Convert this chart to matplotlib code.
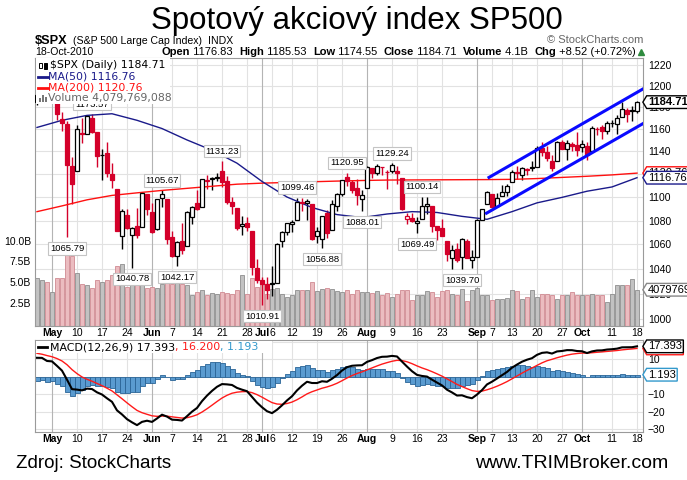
import numpy as np
import pandas as pd
import matplotlib
matplotlib.use("Agg")
import matplotlib.pyplot as plt
from matplotlib.path import Path
from matplotlib.patches import Rectangle
from matplotlib.lines import Line2D
from matplotlib.ticker import FixedLocator, NullLocator, FuncFormatter
from matplotlib.transforms import blended_transform_factory

plt.rcParams['font.family'] = ['Liberation Sans', 'DejaVu Sans']

# ---------------- data ----------------
holidays = ['2010-05-31', '2010-07-05', '2010-09-06']
dates = pd.bdate_range('2010-04-28', '2010-10-18')
dates = dates[~dates.isin(pd.to_datetime(holidays))]

opens = [1184.59, 1193.30, 1206.77, 1188.58, 1197.50, 1169.24, 1164.38, 1127.04, 1122.27, 1156.39,
         1155.43, 1170.04, 1157.19, 1136.52, 1138.78, 1119.57, 1107.34, 1067.26, 1084.78, 1067.42,
         1075.51, 1074.27, 1102.59, 1087.30, 1073.01, 1098.82, 1098.43, 1065.84, 1050.81, 1062.75,
         1058.77, 1082.65, 1095.00, 1091.21, 1114.02, 1115.98, 1116.16, 1122.79, 1113.90, 1095.57,
         1090.93, 1075.10, 1077.50, 1071.10, 1040.56, 1031.10, 1027.65, 1028.09, 1028.54, 1062.92,
         1070.50, 1077.23, 1080.65, 1095.61, 1094.46, 1093.85, 1066.85, 1064.53, 1086.67, 1072.14,
         1092.17, 1102.89, 1117.36, 1112.84, 1108.07, 1098.44, 1107.53, 1125.34, 1121.06, 1125.78,
         1122.07, 1122.80, 1122.92, 1116.89, 1081.48, 1082.22, 1077.49, 1081.16, 1092.08, 1092.44,
         1075.63, 1073.36, 1063.20, 1048.98, 1056.28, 1049.27, 1062.90, 1046.88, 1049.72, 1080.66,
         1093.61, 1102.60, 1092.36, 1101.15, 1104.57, 1113.38, 1121.16, 1119.43, 1123.89, 1126.39,
         1126.57, 1142.82, 1139.49, 1131.10, 1131.69, 1148.64, 1142.31, 1146.75, 1145.97, 1143.49,
         1144.96, 1140.68, 1159.81, 1161.57, 1158.36, 1165.32, 1164.28, 1171.32, 1177.82, 1177.47,
         1176.83]
highs = [1195.05, 1209.36, 1207.99, 1205.13, 1197.50, 1175.95, 1167.58, 1135.13, 1163.85, 1170.48,
         1172.87, 1173.57, 1157.19, 1141.88, 1148.66, 1129.63, 1107.34, 1090.16, 1089.95, 1074.75,
         1090.75, 1103.52, 1102.59, 1094.77, 1098.56, 1105.67, 1098.43, 1071.36, 1063.15, 1077.74,
         1087.85, 1092.25, 1105.91, 1115.59, 1118.74, 1117.72, 1121.01, 1131.23, 1118.50, 1099.64,
         1090.93, 1083.56, 1082.60, 1071.10, 1048.08, 1033.58, 1032.95, 1042.50, 1060.89, 1071.25,
         1078.16, 1080.78, 1099.46, 1099.08, 1098.66, 1093.85, 1074.70, 1083.94, 1088.96, 1097.50,
         1103.73, 1115.01, 1120.95, 1114.66, 1115.90, 1106.44, 1127.30, 1125.44, 1128.75, 1126.56,
         1123.06, 1129.24, 1127.16, 1116.89, 1086.72, 1086.25, 1082.62, 1100.14, 1099.77, 1092.44,
         1075.63, 1081.58, 1063.20, 1059.38, 1061.45, 1065.21, 1064.40, 1055.14, 1081.30, 1090.10,
         1105.10, 1102.60, 1103.26, 1110.27, 1110.88, 1123.87, 1127.36, 1126.46, 1125.44, 1131.47,
         1144.86, 1148.59, 1144.38, 1136.77, 1148.90, 1149.92, 1150.00, 1148.63, 1157.16, 1150.30,
         1148.16, 1162.76, 1162.33, 1163.87, 1167.73, 1168.68, 1172.58, 1184.38, 1178.89, 1181.20,
         1185.53]
lows = [1181.81, 1193.30, 1186.32, 1188.58, 1168.12, 1158.15, 1065.79, 1094.15, 1122.27, 1147.71,
        1155.43, 1156.14, 1126.14, 1114.96, 1117.20, 1107.84, 1071.58, 1055.90, 1072.70, 1040.78,
        1065.59, 1074.27, 1084.78, 1069.89, 1072.03, 1091.81, 1060.50, 1049.86, 1042.17, 1052.25,
        1058.77, 1077.12, 1089.03, 1091.21, 1107.13, 1105.87, 1113.93, 1108.24, 1094.18, 1085.31,
        1071.60, 1067.89, 1071.45, 1035.18, 1028.33, 1010.91, 1015.93, 1018.35, 1028.54, 1058.24,
        1068.10, 1069.99, 1080.65, 1087.68, 1080.53, 1063.32, 1061.11, 1056.88, 1065.25, 1072.14,
        1087.88, 1101.30, 1109.78, 1103.11, 1092.82, 1088.01, 1107.53, 1116.76, 1119.46, 1118.81,
        1107.17, 1120.91, 1111.58, 1088.55, 1076.69, 1079.00, 1069.49, 1081.16, 1085.76, 1070.66,
        1063.91, 1067.08, 1046.68, 1039.83, 1045.40, 1039.70, 1048.79, 1040.88, 1049.72, 1080.39,
        1093.61, 1091.15, 1092.36, 1101.15, 1101.15, 1113.38, 1115.58, 1114.63, 1118.88, 1122.43,
        1126.57, 1136.22, 1131.58, 1122.79, 1131.69, 1142.00, 1132.09, 1140.26, 1136.08, 1139.42,
        1131.87, 1140.68, 1154.85, 1151.41, 1155.58, 1162.02, 1155.71, 1171.32, 1166.71, 1167.12,
        1174.55]
closes = [1191.36, 1206.78, 1186.69, 1202.26, 1173.60, 1165.87, 1128.15, 1110.88, 1159.73, 1155.79,
          1171.67, 1157.44, 1135.68, 1136.94, 1120.80, 1115.05, 1071.59, 1087.69, 1073.65, 1074.03,
          1067.95, 1103.06, 1089.41, 1070.71, 1098.38, 1102.83, 1064.88, 1050.47, 1062.00, 1055.69,
          1086.84, 1091.60, 1089.63, 1115.23, 1114.61, 1116.04, 1117.51, 1113.20, 1095.31, 1092.04,
          1073.69, 1076.76, 1074.57, 1041.24, 1030.71, 1027.37, 1022.58, 1028.06, 1060.27, 1070.25,
          1077.96, 1078.75, 1095.34, 1095.17, 1096.48, 1064.88, 1071.25, 1083.48, 1069.59, 1093.67,
          1102.66, 1115.01, 1113.84, 1106.13, 1101.53, 1101.60, 1125.86, 1120.46, 1127.24, 1125.81,
          1121.64, 1127.79, 1121.06, 1089.47, 1083.61, 1079.25, 1079.38, 1092.54, 1094.16, 1075.63,
          1071.69, 1067.36, 1051.87, 1055.33, 1047.22, 1064.59, 1048.92, 1049.33, 1080.29, 1090.10,
          1104.51, 1091.84, 1098.87, 1104.18, 1109.55, 1121.90, 1121.10, 1125.07, 1124.66, 1125.59,
          1142.71, 1139.78, 1134.28, 1124.83, 1148.67, 1142.16, 1147.70, 1144.73, 1141.20, 1146.24,
          1137.03, 1160.75, 1159.97, 1158.06, 1165.15, 1165.32, 1169.77, 1178.10, 1173.81, 1176.19,
          1184.71]
volumes_b = [5.5, 5.25, 5.0, 3.8, 5.5, 5.5, 8.4, 8.1, 6.1, 4.8,
             4.6, 4.3, 5.3, 5.0, 5.2, 5.9, 7.0, 7.2, 4.4, 6.0,
             6.1, 4.6, 4.3, 4.4, 4.3, 4.8, 4.9, 4.8, 5.3, 4.8,
             4.6, 3.5, 3.8, 4.0, 3.5, 3.7, 3.6, 3.8, 3.7, 3.6,
             4.0, 5.9, 3.6, 5.5, 4.4, 4.9, 3.6, 4.2, 4.3, 3.6,
             3.2, 3.4, 4.1, 4.0, 4.1, 5.0, 3.9, 4.2, 4.3, 4.2,
             3.9, 3.8, 4.1, 3.6, 4.1, 3.8, 3.8, 3.7, 3.9, 3.4,
             3.7, 3.2, 3.6, 4.0, 4.0, 2.8, 3.4, 3.5, 3.9, 3.8,
             3.2, 3.9, 4.0, 3.6, 3.5, 4.2, 2.7, 4.0, 4.3, 3.5,
             3.4, 2.9, 3.0, 3.0, 3.1, 4.0, 3.9, 3.0, 3.2, 4.1,
             3.2, 3.6, 3.6, 3.5, 3.0, 3.4, 3.4, 3.75, 3.5, 3.5,
             3.5, 3.6, 3.4, 3.4, 2.6, 3.6, 4.65, 4.65, 4.65, 5.4,
             4.08]
prev_close_start = 1183.71
last_volume = 4079769088

ma_sample_dates = ['2010-04-28', '2010-05-05', '2010-05-12', '2010-05-19', '2010-05-26', '2010-06-03',
                   '2010-06-10', '2010-06-17', '2010-06-24', '2010-07-01', '2010-07-09', '2010-07-16',
                   '2010-07-23', '2010-07-30', '2010-08-06', '2010-08-13', '2010-08-20', '2010-08-27',
                   '2010-09-03', '2010-09-13', '2010-09-20', '2010-09-27', '2010-10-04', '2010-10-11',
                   '2010-10-18']
ma50 = [1161.5, 1168.0, 1172.5, 1174.0, 1168.0, 1160.5, 1150.2, 1141.0, 1129.5, 1113.5, 1100.0, 1091.0,
        1085.0, 1082.5, 1085.5, 1087.5, 1086.8, 1083.5, 1081.0, 1087.5, 1095.0, 1099.7, 1105.0, 1108.7,
        1116.76]
ma200 = [1087.5, 1092.4, 1097.6, 1101.4, 1103.6, 1105.7, 1107.5, 1109.3, 1111.1, 1112.0, 1112.6, 1113.2,
         1113.8, 1114.3, 1114.7, 1114.8, 1114.9, 1115.0, 1115.1, 1115.3, 1116.0, 1117.0, 1118.0, 1119.2,
         1120.76]

# MACD(12,26,9) seeds (EMA state just before the first bar)
ema12_seed, ema26_seed, signal_seed = 1198.3, 1186.0, 14.05
macd_last, signal_last, hist_last = 17.393, 16.200, 1.193

callout_dates = ['2010-05-13', '2010-05-06', '2010-05-25', '2010-06-03', '2010-06-08', '2010-06-21',
                 '2010-07-01', '2010-07-13', '2010-07-20', '2010-07-27', '2010-07-30', '2010-08-09',
                 '2010-08-16', '2010-08-17', '2010-08-27']
callout_values = [1173.57, 1065.79, 1040.78, 1105.67, 1042.17, 1131.23, 1010.91, 1099.46, 1056.88,
                  1120.95, 1088.01, 1129.24, 1069.49, 1100.14, 1039.70]
callout_side = ['H', 'L', 'L', 'H', 'L', 'H', 'L', 'H', 'L', 'H', 'L', 'H', 'L', 'H', 'L']

# trend channel (trading-day position, price)
channel_upper_x = [90.4, 121.2]
channel_upper_y = [1117.0, 1197.0]
channel_lower_x = [89.9, 121.2]
channel_lower_y = [1086.2, 1165.0]

tick_dates = ['2010-05-03', '2010-05-10', '2010-05-17', '2010-05-24', '2010-06-01', '2010-06-07',
              '2010-06-14', '2010-06-21', '2010-06-28', '2010-07-01', '2010-07-06', '2010-07-12',
              '2010-07-19', '2010-07-26', '2010-08-02', '2010-08-09', '2010-08-16', '2010-08-23',
              '2010-09-01', '2010-09-07', '2010-09-13', '2010-09-20', '2010-09-27', '2010-10-01',
              '2010-10-11', '2010-10-18']
tick_labels = ['May', '10', '17', '24', 'Jun', '7', '14', '21', '28', 'Jul', '6', '12', '19', '26',
               'Aug', '9', '16', '23', 'Sep', '7', '13', '20', '27', 'Oct', '11', '18']
month_labels = {'May', 'Jun', 'Jul', 'Aug', 'Sep', 'Oct'}

price_ticks = [1000, 1020, 1040, 1060, 1080, 1100, 1120, 1140, 1160, 1180, 1200, 1220]
vol_ticks = [2.5, 5.0, 7.5, 10.0]
macd_ticks = [-30, -20, -10, 10]
macd_grid = [-30, -20, -10, 0, 10, 20]

# ---------------- helpers ----------------
W, H = 687, 480
pos = {d: i for i, d in enumerate(dates)}
def di(s):
    return pos[pd.Timestamp(s)]

opens = np.array(opens); highs = np.array(highs); lows = np.array(lows); closes = np.array(closes)
vols = np.array(volumes_b)
n = len(closes)
xi = np.arange(n)
prev = np.concatenate([[prev_close_start], closes[:-1]])

RED = '#d4002a'
BLACK = '#000000'
NAVY = '#1a1a8a'
GRID = '#e2e2e2'
MGRID = '#b4b4b4'
SPINE = '#9a9a9a'

def tag_box(x0, y0, width, height, mutation_size):
    pad = mutation_size * 0.12
    x0 -= pad; y0 -= pad
    w = width + 2 * pad; h = height + 2 * pad
    tip = h * 0.3
    verts = [(x0, y0), (x0 + w, y0), (x0 + w, y0 + h), (x0, y0 + h), (x0 - tip, y0 + h / 2), (x0, y0)]
    return Path(verts, closed=True)

fig = plt.figure(figsize=(W / 100, H / 100), dpi=100)

def frect(x0, y0, x1, y1):
    return [x0 / W, 1 - y1 / H, (x1 - x0) / W, (y1 - y0) / H]

XL = (-0.4, 121.2)

# ---------------- volume (bottom layer) ----------------
axv = fig.add_axes(frect(35, 58, 643, 326))
axv.set_xlim(*XL)
axv.set_ylim(-0.3, 32.07)
ax = fig.add_axes(frect(35, 58, 643, 326))
ax.set_zorder(axv.get_zorder() + 1)
ax.patch.set_visible(False)
ax.set_yscale('log')
ax.set_ylim(994.5, 1226.3)
ax.set_xlim(*XL)

tick_idx = [di(s) for s in tick_dates]
blend = blended_transform_factory(axv.transAxes, ax.transData)
for p in price_ticks:
    axv.add_line(Line2D([0, 1], [p, p], transform=blend, color=GRID, lw=0.8, zorder=0))
for t, lab in zip(tick_idx, tick_labels):
    axv.axvline(t, color=MGRID if lab in month_labels else GRID, lw=0.8, zorder=0)

vcol_face = np.where(closes < prev, '#ebbcc0', '#c2c2c2')
vcol_edge = np.where(closes < prev, '#d08a92', '#8e8e8e')
axv.bar(xi, vols + 0.3, bottom=-0.3, width=0.9, color=vcol_face, edgecolor=vcol_edge, lw=0.6, zorder=1)
axv.set_yticks(vol_ticks)
axv.yaxis.set_major_formatter(FuncFormatter(lambda v, _: f"{v:.1f}B"))
axv.tick_params(axis='y', length=0, pad=3, labelsize=7.5)
axv.set_xticks([])
for sp in axv.spines.values():
    sp.set_color(SPINE); sp.set_linewidth(0.8)

# ---------------- price ----------------
ccol = np.where(closes < prev, RED, BLACK)
ax.vlines(xi, lows, highs, colors=ccol, lw=1.0, zorder=2)
body_lo = np.minimum(opens, closes)
body_h = np.maximum(np.abs(closes - opens), 0.35)
face = [c if cl < o else 'white' for c, cl, o in zip(ccol, closes, opens)]
ax.bar(xi, body_h, bottom=body_lo, width=0.66, color=face, edgecolor=ccol, lw=0.9, zorder=3)

ma_x = [di(s) for s in ma_sample_dates]
ax.plot(ma_x, ma200, color='#ff1010', lw=1.0, zorder=2.5)
ax.plot(ma_x, ma50, color=NAVY, lw=1.0, zorder=2.5)
ax.plot(channel_upper_x, channel_upper_y, color='#0a0aff', lw=2.2, zorder=4)
ax.plot(channel_lower_x, channel_lower_y, color='#0a0aff', lw=2.2, zorder=4)

for d, v, s in zip(callout_dates, callout_values, callout_side):
    off = 7.2 if s == 'H' else -8.0
    ax.annotate(f"{v:.2f}", xy=(di(d), v), xytext=(0, off), textcoords='offset points',
                ha='center', va='center', fontsize=6.8, zorder=6,
                bbox=dict(boxstyle='square,pad=0.18', fc='white', ec='#c4c4c4', lw=0.8),
                annotation_clip=False)

ax.yaxis.tick_right()
ax.yaxis.set_major_locator(FixedLocator(price_ticks))
ax.yaxis.set_minor_locator(NullLocator())
ax.yaxis.set_major_formatter(FuncFormatter(lambda v, _: f"{v:.0f}"))
ax.tick_params(axis='y', length=0, pad=3.5, labelsize=7.5)
ax.set_xticks(tick_idx)
ax.set_xticklabels(tick_labels)
ax.tick_params(axis='x', length=0, pad=1.5, labelsize=7.5)
for lab in ax.get_xticklabels():
    if lab.get_text() in month_labels:
        lab.set_fontweight('bold')
for sp in ax.spines.values():
    sp.set_visible(False)

rtrans = blended_transform_factory(ax.transAxes, ax.transData)
def rtag(axis, trans, y, text, ec, bold=False):
    axis.annotate(text, xy=(1, y), xycoords=trans, xytext=(5, 0), textcoords='offset pixels',
                  ha='left', va='center', fontsize=8, fontweight='bold' if bold else 'normal',
                  bbox=dict(boxstyle=tag_box, fc='white', ec=ec, lw=1.0),
                  annotation_clip=False, zorder=8)

rtag(ax, rtrans, ma200[-1], f"{ma200[-1]:.2f}", '#ff1010')
rtag(ax, rtrans, ma50[-1], f"{ma50[-1]:.2f}", NAVY)
rtag(ax, rtrans, closes[-1], f"{closes[-1]:.2f}", BLACK, bold=True)
vtrans = blended_transform_factory(ax.transAxes, axv.transData)
rtag(ax, vtrans, vols[-1], f"{last_volume}", '#888888')

# ---------------- MACD ----------------
e12, e26, sg = ema12_seed, ema26_seed, signal_seed
macd, sig = [], []
for c in closes:
    e12 += (c - e12) * 2 / 13
    e26 += (c - e26) * 2 / 27
    m = e12 - e26
    sg += (m - sg) * 2 / 10
    macd.append(m); sig.append(sg)
macd = np.array(macd); sig = np.array(sig)
hist = macd - sig

axm = fig.add_axes(frect(35, 340, 643, 432))
axm.set_xlim(*XL)
axm.set_ylim(-31.5, 21.0)
for g in macd_grid:
    axm.axhline(g, color=GRID, lw=0.8, zorder=0)
for t, lab in zip(tick_idx, tick_labels):
    axm.axvline(t, color=MGRID if lab in month_labels else GRID, lw=0.8, zorder=0)
axm.bar(xi, hist, width=1.0, color='#5a9bd0', edgecolor='#2a6496', lw=0.6, zorder=2)
axm.plot(xi, sig, color='#ff1a1a', lw=1.0, zorder=3)
axm.plot(xi, macd, color='black', lw=1.5, zorder=4)
axm.yaxis.tick_right()
axm.set_yticks(macd_ticks)
axm.tick_params(axis='y', length=0, pad=3.5, labelsize=7.5)
axm.set_xticks(tick_idx)
axm.set_xticklabels(tick_labels)
axm.tick_params(axis='x', length=0, pad=1.5, labelsize=7.5)
for lab in axm.get_xticklabels():
    if lab.get_text() in month_labels:
        lab.set_fontweight('bold')
for sp in axm.spines.values():
    sp.set_color(SPINE); sp.set_linewidth(0.8)
mtrans = blended_transform_factory(axm.transAxes, axm.transData)
rtag(axm, mtrans, signal_last, f"{signal_last:.3f}", '#ff1a1a')
rtag(axm, mtrans, macd_last, f"{macd_last:.3f}", BLACK)
rtag(axm, mtrans, hist_last, f"{hist_last:.3f}", '#3399cc')

# ---------------- texts ----------------
renderer = fig.canvas.get_renderer()
def seq(x, y, pieces, size, family=None, zorder=12):
    for txt, kw in pieces:
        props = dict(fontsize=size, va='baseline', ha='left', zorder=zorder)
        if family:
            props['family'] = family
        props.update(kw)
        t = fig.text(x / W, 1 - y / H, txt, **props)
        bb = t.get_window_extent(renderer)
        x += bb.width

fig.text(357 / W, 1 - 28.5 / H, "Spotový akciový index SP500", fontsize=22.5, ha='center', va='baseline')
fig.text(35 / W, 1 - 43.5 / H, "$SPX", fontsize=9.2, fontweight='bold', va='baseline')
fig.text(73 / W, 1 - 43.5 / H, "(S&P 500 Large Cap Index)", fontsize=7.6, va='baseline')
fig.text(208 / W, 1 - 43.5 / H, "INDX", fontsize=7.6, va='baseline')
fig.text(35 / W, 1 - 55 / H, "18-Oct-2010", fontsize=7.6, va='baseline')
chg = closes[-1] - closes[-2]
pct = chg / closes[-2] * 100
B = dict(fontweight='bold')
seq(162, 55, [("Open", B), (f" {opens[-1]:.2f}  ", {}), ("High", B), (f" {highs[-1]:.2f}  ", {}),
              ("Low", B), (f" {lows[-1]:.2f}  ", {}), ("Close", B), (f" {closes[-1]:.2f}  ", {}),
              ("Volume", B), (f" {vols[-1]:.1f}B  ", {}), ("Chg", B), (f" {chg:+.2f} ({pct:+.2f}%)", {})], 8)
fig.add_artist(Line2D([641 / W], [1 - 52 / H], marker='^', color='#2e8b3e', markersize=5, lw=0))
fig.text(643 / W, 1 - 43 / H, "\u00a9 StockCharts.com", fontsize=8, color='#666666', ha='right', va='baseline')

# legend box (price)
fig.add_artist(Rectangle((35.5 / W, 1 - 104 / H), 134 / W, 45.5 / H, transform=fig.transFigure,
                         fc='white', ec='none', zorder=10))
lg = dict(family='DejaVu Sans')
LGS = 7.8
fig.add_artist(Rectangle((39 / W, 1 - 68 / H), 3 / W, 5 / H, transform=fig.transFigure, fc='white', ec='black', lw=0.7, zorder=11))
fig.add_artist(Rectangle((44 / W, 1 - 69 / H), 3 / W, 6 / H, transform=fig.transFigure, fc='black', ec='black', lw=0.7, zorder=11))
fig.text(50 / W, 1 - 68.5 / H, f"$SPX (Daily) {closes[-1]:.2f}", fontsize=LGS, va='baseline', zorder=12, **lg)
fig.add_artist(Line2D([38 / W, 48 / W], [1 - 76.5 / H] * 2, color=NAVY, lw=2, zorder=11))
fig.text(48.5 / W, 1 - 79.5 / H, f"MA(50) {ma50[-1]:.2f}", fontsize=LGS, color=NAVY, va='baseline', zorder=12, **lg)
fig.add_artist(Line2D([38 / W, 48 / W], [1 - 87.5 / H] * 2, color='#ff1010', lw=2, zorder=11))
fig.text(48.5 / W, 1 - 90.5 / H, f"MA(200) {ma200[-1]:.2f}", fontsize=LGS, color='#ff1010', va='baseline', zorder=12, **lg)
for bx, bh in zip([39, 42, 45], [4, 7, 5]):
    fig.add_artist(Rectangle((bx / W, 1 - 102 / H), 2 / W, bh / H, transform=fig.transFigure, fc='#777777', ec='none', zorder=11))
fig.text(48.5 / W, 1 - 101.5 / H, f"Volume {last_volume:,}", fontsize=LGS, color='#666666', va='baseline', zorder=12, **lg)

# MACD legend
fig.add_artist(Rectangle((36 / W, 1 - 353 / H), 236 / W, 12.5 / H, transform=fig.transFigure,
                         fc='white', ec='none', zorder=10))
fig.add_artist(Line2D([38 / W, 47 / W], [1 - 346.5 / H] * 2, color='black', lw=2, zorder=11))
seq(50, 350, [("MACD(12,26,9) " + f"{macd_last:.3f}", dict(color='black')),
              (f", {signal_last:.3f}", dict(color='#ff1a1a')),
              (f", {hist_last:.3f}", dict(color='#3399cc'))], 7.9, family='DejaVu Sans')

fig.text(16 / W, 1 - 468 / H, "Zdroj: StockCharts", fontsize=13.5, va='baseline')
fig.text(668 / W, 1 - 468 / H, "www.TRIMBroker.com", fontsize=14, va='baseline', ha='right')

fig.savefig('out.png', dpi=100)
